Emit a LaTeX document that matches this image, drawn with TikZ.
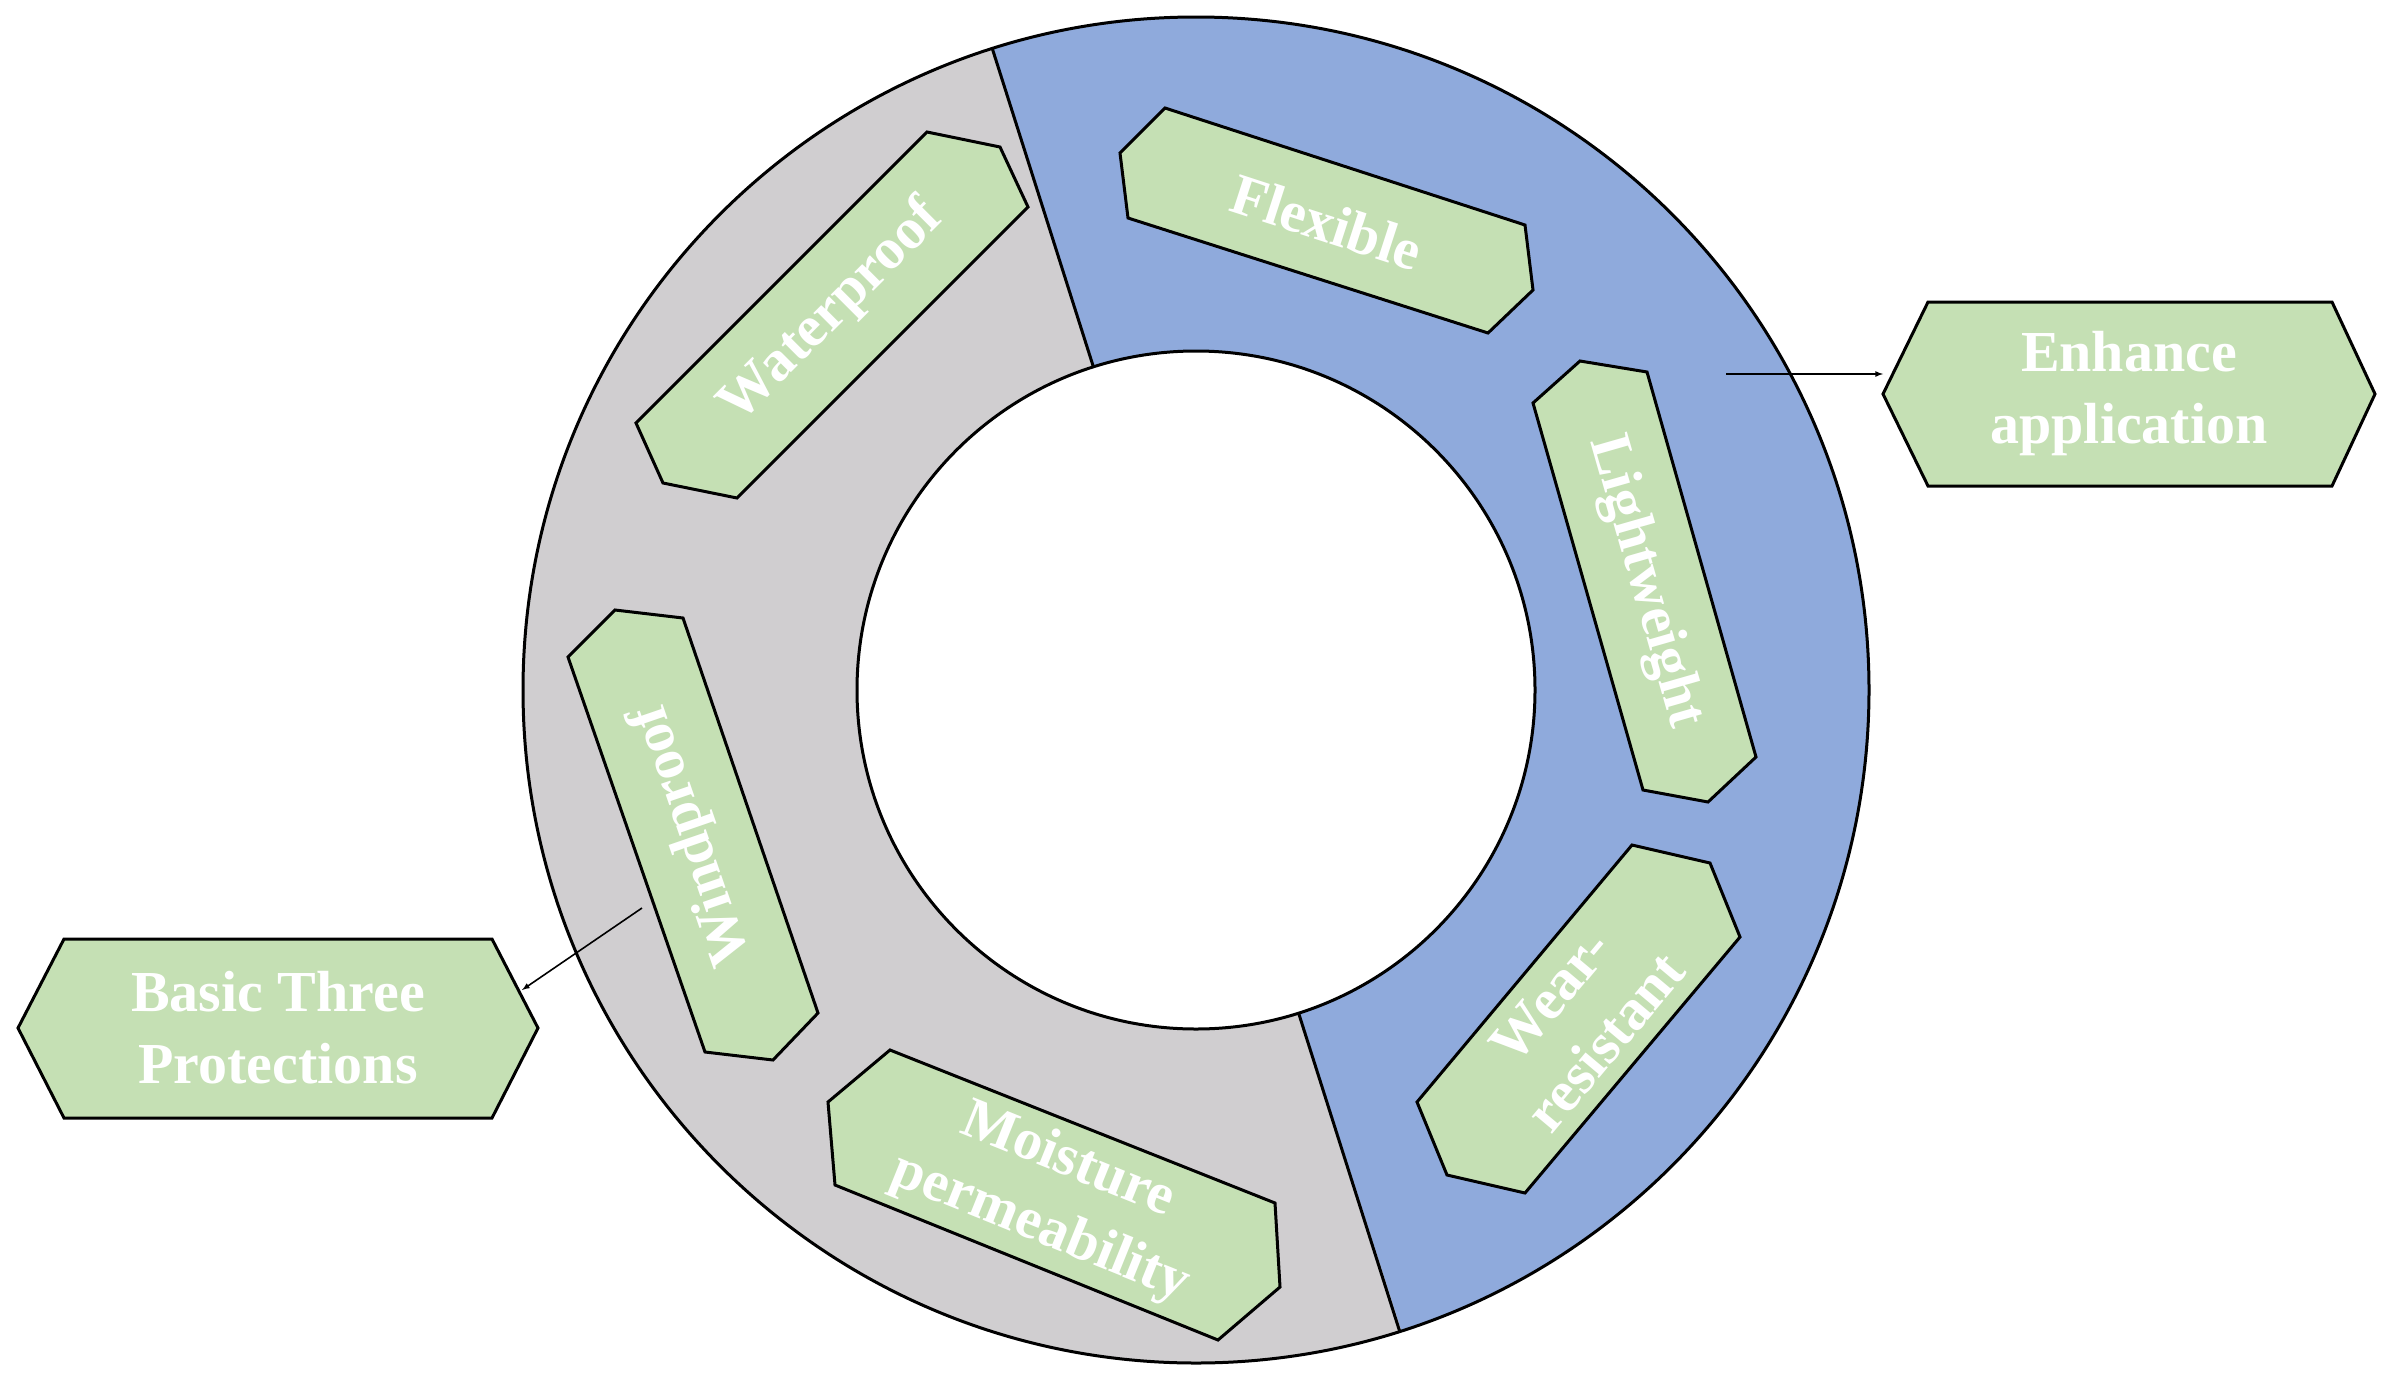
\documentclass[tikz,border=0pt]{standalone}
\usepackage{fontspec}
\setmainfont{Liberation Serif}
\definecolor{ringgray}{RGB}{208,206,208}
\definecolor{ringblue}{RGB}{143,170,220}
\definecolor{boxgreen}{RGB}{197,224,180}
\begin{document}
\begin{tikzpicture}[x=1pt,y=-1pt,
  box/.style={fill=boxgreen,draw=black,line width=3pt,line join=miter},
  lab/.style={text=white,font=\fontsize{58}{72}\selectfont\bfseries,align=center,inner sep=0pt},
  arr/.style={-latex,line width=1.6pt}]
\useasboundingbox (0,0) rectangle (2395,1384);
\coordinate (c) at (1196,690);
% ring
\fill[ringgray] (c) circle[radius=673];
\fill[ringblue] (c) -- (992.3,48.6) arc[start angle=-107.7,end angle=72.3,radius=673] -- cycle;
\fill[white] (c) circle[radius=339];
\draw[line width=3pt] (c) circle[radius=673];
\draw[line width=3pt] (c) circle[radius=339];
\draw[line width=3pt] (1093.4,366.9) -- (992.3,48.6);
\draw[line width=3pt] (1298.6,1013.1) -- (1399.7,1331.4);
% boxes
\draw[box] (927,132) -- (1000,147) -- (1028,207) -- (737,498) -- (663,483) -- (636,423) -- cycle;
\draw[box] (1120,153) -- (1165,108) -- (1525,225) -- (1533,290) -- (1488,333) -- (1128,218) -- cycle;
\draw[box] (1533,403) -- (1580,361) -- (1647,372) -- (1756,757) -- (1708,802) -- (1643,790) -- cycle;
\draw[box] (1632,845) -- (1710,863) -- (1740,937) -- (1525,1193) -- (1447,1175) -- (1417,1102) -- cycle;
\draw[box] (890,1050) -- (1275,1203) -- (1280,1287) -- (1218,1340) -- (835,1185) -- (828,1102) -- cycle;
\draw[box] (615,610) -- (683,618) -- (818,1013) -- (773,1060) -- (705,1052) -- (568,657) -- cycle;
\node[lab,rotate=45] (wp) at (832,312) {Waterproof};
\node[lab,rotate=-18] (fl) at (1327,222) {Flexible};
\node[lab,rotate=-74] (lw) at (1645,582) {Lightweight};
\node[lab,rotate=50] (wr) at (1578,1019) {Wear-\\resistant};
\node[lab,rotate=-22] (mp) at (1054,1195) {Moisture\\permeability};
\node[lab,rotate=109] (wd) at (693,835) {Windproof};
% side hexagons
\draw[box] (1883,394) -- (1928,302) -- (2332,302) -- (2375,394) -- (2332,486) -- (1928,486) -- cycle;
\node[lab] (ea) at (2129,394) {Enhance\\application};
\draw[box] (18,1028) -- (64,939) -- (492,939) -- (538,1028) -- (492,1118) -- (64,1118) -- cycle;
\node[lab] (bp) at (278,1028) {Basic Three\\Protections};
\coordinate (ea-in) at (1883,374);
\coordinate (ea-from) at (1726,374);
\coordinate (bp-in) at (522,990);
\coordinate (bp-from) at (642,908);
\draw[arr] (ea-from) -- (ea-in);
\draw[arr] (bp-from) -- (bp-in);
\end{tikzpicture}
\end{document}
